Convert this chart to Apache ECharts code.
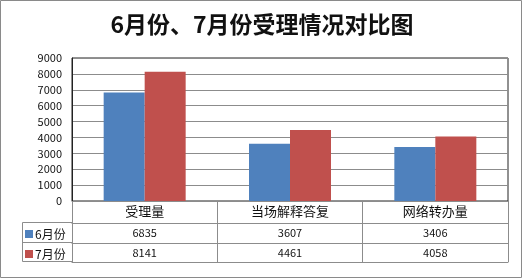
<!DOCTYPE html>
<html lang="zh">
<head>
<meta charset="utf-8" />
<title>6月份、7月份受理情况对比图</title>
<script src="https://cdn.jsdelivr.net/npm/echarts@6/dist/echarts.min.js"></script>
<style>
  html, body { margin: 0; padding: 0; background: #fff; }
  #chart { width: 524px; height: 280px; }
</style>
</head>
<body>
<div id="chart"></div>
<script>
  // 数据
  var categories = ["受理量", "当场解释答复", "网络转办量"];
  var june = [6835, 3607, 3406];
  var july = [8141, 4461, 4058];
  var seriesNames = ["6月份", "7月份"];

  var font = '"Noto Sans CJK SC", "Liberation Sans", sans-serif';
  var lineGray = "#8c8c8c";

  var myChart = echarts.init(document.getElementById("chart"));
  myChart.setOption({
    backgroundColor: "#fff",
    animation: false,
    title: {
      text: "6月份、7月份受理情况对比图",
      left: "center",
      top: 8,
      textStyle: { fontFamily: font, fontSize: 23, fontWeight: "bold", color: "#111" }
    },
    legend: {
      orient: "vertical",
      left: 25,
      top: 228,
      itemWidth: 8,
      itemHeight: 8,
      itemGap: 8,
      icon: "rect",
      data: seriesNames,
      textStyle: { fontFamily: font, fontSize: 12, color: "#111", padding: [0, 0, 0, -3], lineHeight: 12 },
      padding: 0
    },
    grid: {
      left: 72, right: 16, top: 58, bottom: 79,
      show: true, borderColor: "#222", borderWidth: 1
    },
    xAxis: [
      {
        type: "category",
        data: categories,
        axisLine: { lineStyle: { color: lineGray } },
        axisTick: { show: true, length: 61, lineStyle: { color: lineGray } },
        axisLabel: { fontFamily: font, fontSize: 13, color: "#111", margin: 4 }
      },
      {
        type: "category",
        position: "bottom",
        offset: 22,
        data: june.map(String),
        axisLine: { lineStyle: { color: lineGray } },
        axisTick: { show: false },
        axisLabel: { fontFamily: font, fontSize: 11, color: "#111", margin: 4 }
      },
      {
        type: "category",
        position: "bottom",
        offset: 42,
        data: july.map(String),
        axisLine: { lineStyle: { color: lineGray } },
        axisTick: { show: false },
        axisLabel: { fontFamily: font, fontSize: 11, color: "#111", margin: 4 }
      },
      {
        type: "category",
        position: "bottom",
        offset: 61,
        data: categories,
        axisLine: { lineStyle: { color: lineGray } },
        axisTick: { show: false },
        axisLabel: { show: false }
      }
    ],
    yAxis: {
      type: "value",
      min: 0,
      max: 9000,
      interval: 1000,
      axisLine: { show: true, lineStyle: { color: "#222" } },
      axisTick: { show: false },
      axisLabel: {
        fontFamily: font, fontSize: 11, color: "#111", margin: 10,
        formatter: function (v) { return String(v); }
      },
      splitLine: { lineStyle: { color: lineGray } }
    },
    graphic: [
      {
        type: "rect",
        shape: { x: 0.5, y: 0.5, width: 521, height: 277 },
        style: { fill: "none", stroke: "#8a8a8a", lineWidth: 1 },
        silent: true
      },
      {
        type: "polyline",
        shape: { points: [[72, 222.5], [22.5, 222.5], [22.5, 261.5], [72, 261.5]] },
        style: { fill: "none", stroke: lineGray, lineWidth: 1 },
        silent: true
      },
      {
        type: "line",
        shape: { x1: 22.5, y1: 242.5, x2: 72, y2: 242.5 },
        style: { stroke: lineGray, lineWidth: 1 },
        silent: true
      }
    ],
    series: [
      {
        name: seriesNames[0],
        type: "bar",
        data: june,
        barWidth: 41,
        barGap: "0%",
        itemStyle: { color: "#4f81bd" }
      },
      {
        name: seriesNames[1],
        type: "bar",
        data: july,
        barWidth: 41,
        barGap: "0%",
        itemStyle: { color: "#c0504d" }
      }
    ]
  });
</script>
</body>
</html>
